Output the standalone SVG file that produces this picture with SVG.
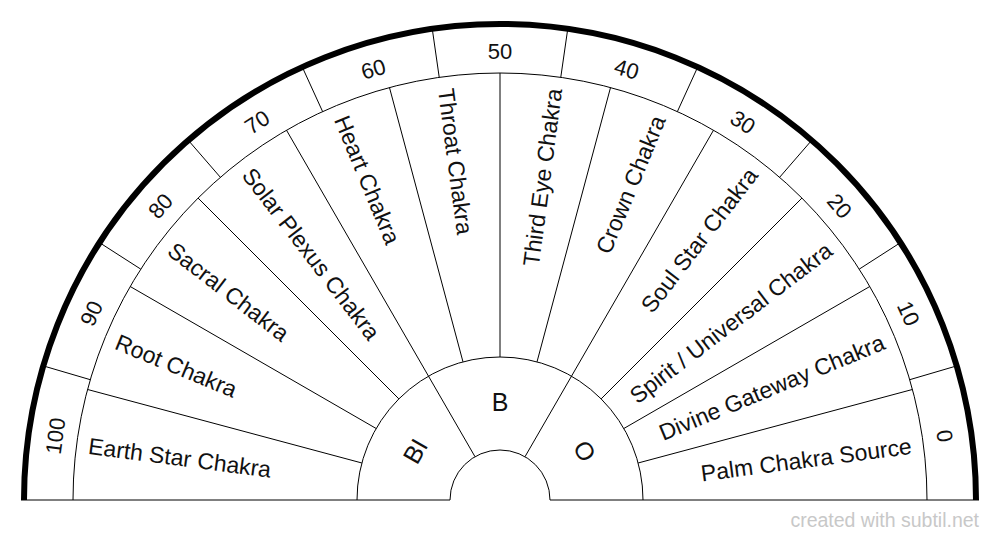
<svg xmlns="http://www.w3.org/2000/svg" width="1000" height="540" viewBox="0 0 1000 540">
<style>
  .ln { stroke: #000; stroke-width: 1; fill: none; }
  .thick { stroke: #000; stroke-width: 6; fill: none; }
  text { font-family: "Liberation Sans", Arial, sans-serif; fill: #111; }
  .ck { font-size: 23px; dominant-baseline: central; }
  .num { font-size: 22px; text-anchor: middle; dominant-baseline: central; }
  .let { font-size: 25px; text-anchor: middle; dominant-baseline: central; }
  .st { text-anchor: start; }
  .en { text-anchor: end; }
  .wm { font-size: 19.5px; fill: #c8c8c8; text-anchor: end; }
</style>
<rect width="1000" height="540" fill="#fff"/>
<g id="arcs">
  <path class="thick" d="M24 500 A476 476 0 0 1 976 500"/>
  <path class="ln" d="M73 500 A427 427 0 0 1 927 500"/>
  <path class="ln" d="M357 500 A143 143 0 0 1 643 500"/>
  <path class="ln" d="M450 500 A50 50 0 0 1 550 500"/>
  <path class="ln" d="M21 500 H450 M550 500 H979"/>
</g>
<g id="connectors">
  <path class="ln" d="M909.70 379.70 L956.72 365.89 M859.22 269.14 L900.44 242.65 M779.63 177.29 L811.72 140.26 M677.39 111.58 L697.74 67.01 M560.77 77.34 L567.75 28.84"/>
  <path class="ln" d="M90.30 379.70 L43.28 365.89 M140.78 269.14 L99.56 242.65 M220.37 177.29 L188.28 140.26 M322.61 111.58 L302.26 67.01 M439.23 77.34 L432.25 28.84"/>
  <path class="ln" d="M638.13 462.99 L912.45 389.48 M623.84 428.5 L869.79 286.5 M601.12 398.88 L801.93 198.07 M571.5 376.16 L713.5 130.21 M537.01 361.87 L610.52 87.55 M500 357 L500 73"/>
  <path class="ln" d="M361.87 462.99 L87.55 389.48 M376.16 428.5 L130.21 286.5 M398.88 398.88 L198.07 198.07 M428.5 376.16 L286.5 130.21 M462.99 361.87 L389.48 87.55"/>
  <path class="ln" d="M525 456.70 L571.5 376.16 M475 456.70 L428.5 376.16"/>
</g>
<g id="numbers">
  <text class="num" transform="translate(55.57 436.10) rotate(-81.82)">100</text>
  <text class="num" transform="translate(91.58 313.48) rotate(-65.45)">90</text>
  <text class="num" transform="translate(160.67 205.97) rotate(-49.09)">80</text>
  <text class="num" transform="translate(257.25 122.27) rotate(-32.73)">70</text>
  <text class="num" transform="translate(373.50 69.18) rotate(-16.36)">60</text>
  <text class="num" transform="translate(500 51)">50</text>
  <text class="num" transform="translate(626.50 69.18) rotate(16.36)">40</text>
  <text class="num" transform="translate(742.75 122.27) rotate(32.73)">30</text>
  <text class="num" transform="translate(839.33 205.97) rotate(49.09)">20</text>
  <text class="num" transform="translate(908.42 313.48) rotate(65.45)">10</text>
  <text class="num" transform="translate(944.43 436.10) rotate(81.82)">0</text>
</g>
<g id="chakras">
  <g id="earth-star"><text class="ck st" transform="translate(88.55 445.83) rotate(7.5)">Earth Star Chakra</text></g>
  <g id="root"><text class="ck st" transform="translate(116.59 341.19) rotate(22.5)">Root Chakra</text></g>
  <g id="sacral"><text class="ck st" transform="translate(170.76 247.36) rotate(37.5)">Sacral Chakra</text></g>
  <g id="solar-plexus"><text class="ck st" transform="translate(247.36 170.76) rotate(52.5)">Solar Plexus Chakra</text></g>
  <g id="heart"><text class="ck st" transform="translate(341.19 116.59) rotate(67.5)">Heart Chakra</text></g>
  <g id="throat"><text class="ck st" transform="translate(445.83 88.55) rotate(82.5)">Throat Chakra</text></g>
  <g id="third-eye"><text class="ck en" transform="translate(554.17 88.55) rotate(-82.5)">Third Eye Chakra</text></g>
  <g id="crown"><text class="ck en" transform="translate(658.81 116.59) rotate(-67.5)">Crown Chakra</text></g>
  <g id="soul-star"><text class="ck en" transform="translate(752.64 170.76) rotate(-52.5)">Soul Star Chakra</text></g>
  <g id="spirit"><text class="ck en" transform="translate(829.24 247.36) rotate(-37.5)">Spirit / Universal Chakra</text></g>
  <g id="divine-gateway"><text class="ck en" transform="translate(883.41 341.19) rotate(-22.5)">Divine Gateway Chakra</text></g>
  <g id="palm"><text class="ck en" transform="translate(911.45 445.83) rotate(-7.5)">Palm Chakra Source</text></g>
</g>
<g id="letters">
  <g id="bl"><text class="let" transform="translate(415.13 451) rotate(-60)">BI</text></g>
  <g id="b"><text class="let" transform="translate(500 402)">B</text></g>
  <g id="o"><text class="let" transform="translate(584.87 451) rotate(60)">O</text></g>
</g>
<text class="wm" x="979" y="527">created with subtil.net</text>
</svg>
